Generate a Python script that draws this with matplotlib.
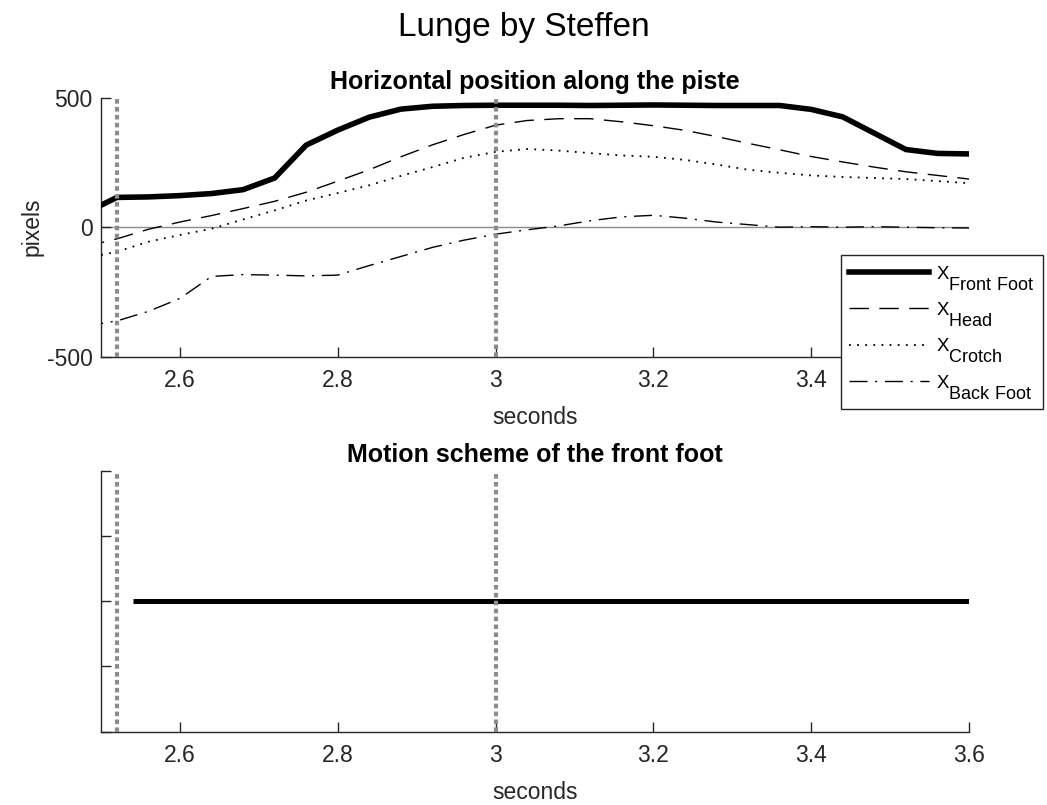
import matplotlib
matplotlib.use('Agg')
import matplotlib.pyplot as plt
import matplotlib._mathtext as _mt
from matplotlib.ticker import FuncFormatter

_mt.SHRINK_FACTOR = 0.97
_mt.FontConstantsBase.sub1 = 1.1

plt.rcParams['font.family'] = ['Liberation Sans', 'DejaVu Sans']
plt.rcParams['mathtext.default'] = 'regular'

# ---------------- data ----------------
time = [2.48, 2.52, 2.56, 2.60, 2.64, 2.68, 2.72, 2.76, 2.80, 2.84, 2.88, 2.92,
        2.96, 3.00, 3.04, 3.08, 3.12, 3.16, 3.20, 3.24, 3.28, 3.32, 3.36, 3.40,
        3.44, 3.48, 3.52, 3.56, 3.60]

x_front_foot = [55, 115, 117, 122, 130, 145, 190, 317, 375, 425, 456, 467,
                470, 471, 471, 471, 470, 471, 472, 471, 470, 470, 470, 455,
                426, 363, 300, 285, 283]

x_head = [-75, -45, -8, 20, 45, 72, 100, 135, 178, 222, 272, 318,
          358, 394, 412, 419, 419, 407, 392, 374, 350, 324, 299, 273,
          252, 232, 214, 200, 186]

x_crotch = [-120, -95, -56, -30, -6, 30, 65, 103, 132, 162, 198, 232,
            268, 291, 302, 296, 286, 277, 272, 260, 242, 222, 210, 200,
            194, 190, 186, 178, 170]

x_back_foot = [-382, -362, -325, -275, -190, -183, -185, -188, -185, -148, -113, -78,
               -50, -27, -10, 5, 25, 40, 46, 35, 20, 10, 0, 2,
               0, 2, 0, -2, -3]

series_labels = [r'X$_{Front\ Foot}$', r'X$_{Head}$', r'X$_{Crotch}$', r'X$_{Back\ Foot}$']

event_times = [2.52, 3.00]

scheme_start = [2.54]
scheme_end = [3.60]
scheme_level = [0.5]

x_ticks = [2.6, 2.8, 3.0, 3.2, 3.4, 3.6]
y_ticks_top = [-500, 0, 500]
y_ticks_bottom = [0, 0.25, 0.5, 0.75, 1.0]

# ---------------- figure ----------------
fig = plt.figure(figsize=(10.47, 8.05), dpi=100)
fig.patch.set_facecolor('white')

axis_color = '#262626'
event_color = '#8c8c8c'
event_style = (0, (1.1, 0.8))

ax1 = fig.add_axes([0.0965, 0.5569, 0.829, 0.3217])
ax2 = fig.add_axes([0.0965, 0.0910, 0.829, 0.3243])

fmt_top = FuncFormatter(lambda v, p: '' if abs(v - 3.6) < 1e-9 else '%g' % v)
fmt = FuncFormatter(lambda v, p: '%g' % v)

def style_axes(ax):
    for s in ['top', 'right']:
        ax.spines[s].set_visible(False)
    for s in ['left', 'bottom']:
        ax.spines[s].set_color(axis_color)
        ax.spines[s].set_linewidth(1.0)
    ax.tick_params(direction='in', length=7, width=1.0, colors=axis_color,
                   labelsize=16.5, labelcolor='#262626')
    ax.tick_params(axis='x', pad=9)
    ax.tick_params(axis='y', pad=6)
    ax.set_xlim(2.5, 3.6)
    ax.set_xticks(x_ticks)

# top axes
ax1.axhline(0, color='#8c8c8c', lw=1.0, zorder=1)
h1, = ax1.plot(time, x_front_foot, color='black', lw=4.0, solid_joinstyle='miter', zorder=3)
h2, = ax1.plot(time, x_head, color='black', lw=1.0, linestyle=(0, (14, 7.5)), zorder=3)
h3, = ax1.plot(time, x_crotch, color='black', lw=1.3, linestyle=(0, (1, 3.5)), zorder=3)
h4, = ax1.plot(time, x_back_foot, color='black', lw=1.0, linestyle=(0, (13, 5.5, 1.5, 5.5)), zorder=3)
for t in event_times:
    ax1.axvline(t, color=event_color, lw=3, linestyle=event_style, zorder=4)
style_axes(ax1)
ax1.xaxis.set_major_formatter(fmt_top)
ax1.set_ylim(-500, 500)
ax1.set_yticks(y_ticks_top)
ax1.yaxis.set_major_formatter(fmt)
ax1.set_ylabel('pixels', fontsize=16.5, color='#262626', labelpad=2)
ax1.set_xlabel('seconds', fontsize=16.5, color='#262626', labelpad=10)
ax1.set_title('Horizontal position along the piste', fontsize=18, fontweight='bold', pad=6)

# bottom axes
for s0, s1, lv in zip(scheme_start, scheme_end, scheme_level):
    ax2.plot([s0, s1], [lv, lv], color='black', lw=3.6, solid_capstyle='butt', zorder=3)
for t in event_times:
    ax2.axvline(t, color=event_color, lw=3, linestyle=event_style, zorder=4)
style_axes(ax2)
ax2.xaxis.set_major_formatter(fmt)
ax2.set_ylim(0, 1)
ax2.set_yticks(y_ticks_bottom)
ax2.set_yticklabels([])
ax2.set_xlabel('seconds', fontsize=16.5, color='#262626', labelpad=10)
ax2.set_title('Motion scheme of the front foot', fontsize=18, fontweight='bold', pad=6)

fig.suptitle('Lunge by Steffen', fontsize=24, y=0.985)

leg = fig.legend([h1, h2, h3, h4], series_labels, loc='upper left',
                 bbox_to_anchor=(0.803, 0.683), borderaxespad=0,
                 fontsize=13.4, handlelength=4.3, handletextpad=0.36,
                 labelspacing=0.45, borderpad=0.45, fancybox=False,
                 framealpha=1.0, edgecolor=axis_color)
leg.get_frame().set_linewidth(1.0)

fig.savefig('out.png', dpi=100, facecolor='white')
